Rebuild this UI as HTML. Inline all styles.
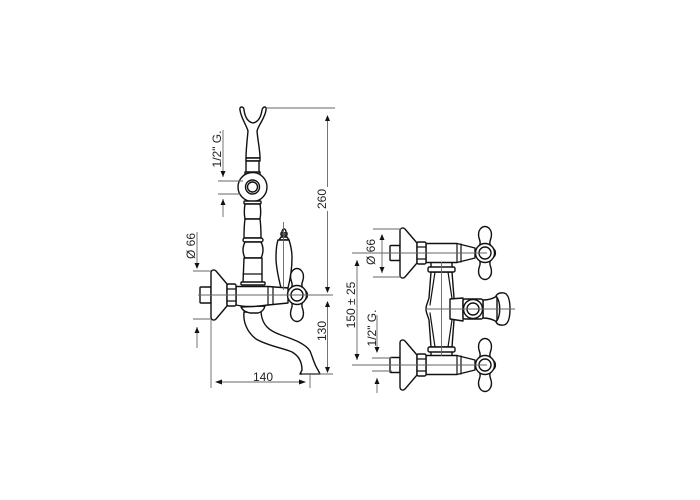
<!DOCTYPE html>
<html><head><meta charset="utf-8"><style>
html,body{margin:0;padding:0;background:#fff;width:700px;height:500px;overflow:hidden}
svg{display:block}
.k{fill:#fff;stroke:#111;stroke-width:1.4;stroke-linejoin:round;stroke-linecap:round}
.n{fill:none;stroke:#111;stroke-width:1.2;stroke-linecap:round}
.d{fill:none;stroke:#666;stroke-width:.9}
.a{fill:#111;stroke:none}
text{font-family:"Liberation Sans",sans-serif;font-size:12px;fill:#222;text-anchor:middle}
</style></head><body>
<svg width="700" height="500" viewBox="0 0 700 500" xmlns="http://www.w3.org/2000/svg">
<defs>
<g id="cross">
<path class="k" d="M-6 -6C-4 -10 -5 -12 -6 -15C-8 -23 -3 -26.500 0 -26.500C3 -26.500 8 -23 6 -15C5 -12 4 -10 6 -6Z"/>
<path class="k" d="M-6 6C-4 10 -5 12 -6 15C-8 23 -3 26.500 0 26.500C3 26.500 8 23 6 15C5 12 4 10 6 6Z"/>
<circle class="k" r="9.500"/>
<path class="n" d="M9 -4C11 -2 11 2 9 4"/>
<circle class="k" r="6"/>
</g>
<g id="valve">
<rect class="k" x="390" y="-7.500" width="10" height="15" rx="1"/>
<path class="k" d="M400 -22C400 -25 403 -26 405 -24L417 -10V10L405 24C403 26 400 25 400 22Z"/>
<path class="k" d="M426 -9.500H457L475 -5V5L457 9.500H426Z"/>
<path class="n" d="M457 -9.500V9.500M461 -9V9"/>
<rect class="k" x="417" y="-11" width="9" height="22" rx="1.500"/>
<path class="n" d="M417 -6H426M417 6H426"/>
<use href="#cross" x="485" y="0"/>
</g>
</defs>

<!-- LEFT: column -->
<path class="k" d="M240 110C239 106 244 106 244 110C245 117 248 122 253 123C258 122 261 117 262 110C263 106 267 106 266 110C265 118 259 124 257 131C258 142 260 150 260 158H246C246 150 247 142 248 131C246 124 241 118 240 110Z"/>
<rect class="k" x="246" y="158" width="14" height="3"/>
<rect class="k" x="246" y="161" width="13" height="12"/>
<rect class="k" x="245" y="172" width="15" height="3"/>
<circle class="k" cx="252.500" cy="187" r="14.500"/>
<circle class="k" cx="252.500" cy="187" r="7"/>
<circle class="k" cx="252.500" cy="187" r="5"/>
<rect class="k" x="244" y="201" width="17" height="3" rx="1"/>
<path class="k" d="M245 204C244 210 244 214 245 219H260C261 214 261 210 260 204Z"/>
<path class="k" d="M245 219C244 226 244 232 244 238H261C261 232 261 226 260 219Z"/>
<rect class="k" x="243" y="238" width="20" height="4" rx="2"/>
<path class="k" d="M245 242C242 248 243 254 245 258H261C263 254 264 248 261 242Z"/>
<path class="k" d="M244 258H262V283H243Z"/>
<path class="n" d="M243 274H262"/>
<rect class="k" x="241" y="282" width="24" height="3" rx="1"/>

<!-- LEFT: spout -->
<path class="k" d="M244 312C243 322 247 332 256 339C268 346 283 348 292 352C299 356 302 362 302 370L300 374H320L318 370C314 364 313 358 310 351C305 343 292 339 281 335C270 331 262 326 261 312Z"/>
<path class="k" d="M241 307C243 311 246 312 250 313H258C262 312 264 310 265 306Z"/>

<!-- LEFT: ceramic handle -->
<path class="k" d="M282 238V232C282 228 286 228 286 232V238Z"/>
<rect class="k" x="281" y="233" width="6" height="2"/>
<path class="k" d="M279 240L281 237H287L289 240Z"/>
<path class="k" d="M278 240C276 246 276 252 276 258C276 268 279 280 281 288H288C290 280 292 268 292 258C292 252 291 246 289 240Z"/>

<!-- LEFT: body -->
<rect class="k" x="200" y="287" width="11" height="16" rx="1"/>
<path class="k" d="M211 273C211 270 214 269 216 271L227 284V306L216 319C214 321 211 320 211 317Z"/>
<path class="k" d="M236 286.500H268L288 288V303L268 305C255 307 245 307 236 305Z"/>
<path class="n" d="M268 286.500V305M273 287V304.500"/>
<rect class="k" x="227" y="284" width="9" height="22" rx="1.500"/>
<path class="n" d="M227 289H236M227 301H236"/>
<use href="#cross" x="297" y="295"/>

<!-- RIGHT: centre body -->
<rect class="k" x="431" y="261" width="21" height="7"/>
<rect class="k" x="431" y="351" width="21" height="7"/>
<path class="k" d="M431 272L429 298C428 302 426 305 426 309C426 313 428 316 429 320L431 347H452L454 320C455 316 457 313 457 309C457 305 455 302 454 298L452 272Z"/>
<path class="n" d="M435 272L430 305M448 272L453 305M435 347L430 313M448 347L453 313"/>
<rect class="k" x="428" y="267" width="27" height="5" rx="1.500"/>
<rect class="k" x="428" y="347" width="27" height="5" rx="1.500"/>
<path class="k" d="M483 300C490 300 494 298 497 296V322C494 320 490 318 483 318Z"/>
<path class="k" d="M496 296C498 292 505 292 507 295C511 300 511 318 507 323C505 326 498 326 496 322C501 316 501 302 496 296Z"/>
<path class="k" d="M450 299L463 298V321L450 319Z"/>
<rect class="k" x="463" y="299" width="20" height="20" rx="2"/>
<circle class="k" cx="473" cy="309" r="9.500"/>
<circle class="k" cx="473" cy="309" r="6"/>
<use href="#valve" x="0" y="253"/>
<use href="#valve" x="0" y="365"/>

<!-- Dimension lines: left -->
<path class="d" d="M267 108H335M327.500 118V187M327.500 211V292M327.500 302V372M288 295H333M302 374H333M310 374V388M211 320V388M216 382H305"/>
<path class="d" d="M218 181H243M218 194H240M223 130V177M223 199V217M197 232V268M197 327V348M193 271H211M193 319H211M198 295H296M283.500 222V290"/>
<path class="a" d="M327.500 115L325 121H330ZM327.500 293L325 287H330ZM327.500 301L325 307H330ZM327.500 373L325 367H330Z"/>
<path class="a" d="M215 382L222 379.500V384.500ZM306 382L299 379.500V384.500Z"/>
<path class="a" d="M223 177L220.500 171H225.500ZM223 199L220.500 205H225.500ZM197 269L194.500 263H199.500ZM197 327L194.500 333H199.500Z"/>

<!-- Dimension lines: right -->
<path class="d" d="M373 229H401M373 277H401M352 253H487M352 365H487M372 358H392M372 371H392M425 309H515M441.500 262V356M382 235V273M357 260V360M377 315V352M377 378V393"/>
<path class="a" d="M382 234L379.500 240H384.500ZM382 273L379.500 267H384.500ZM357 260L354.500 266H359.500ZM357 360L354.500 354H359.500ZM377 353L374.500 347H379.500ZM377 378L374.500 384H379.500Z"/>

<!-- Labels -->
<text transform="translate(326,199) rotate(-90)">260</text>
<text transform="translate(326,331) rotate(-90)">130</text>
<text x="263" y="381">140</text>
<text transform="translate(221,149) rotate(-90)">1/2" G.</text>
<text transform="translate(195,246) rotate(-90)">Ø 66</text>
<text transform="translate(375,252) rotate(-90)">Ø 66</text>
<text transform="translate(355,305) rotate(-90)">150 ± 25</text>
<text transform="translate(376,328) rotate(-90)">1/2" G.</text>
</svg>
</body></html>
